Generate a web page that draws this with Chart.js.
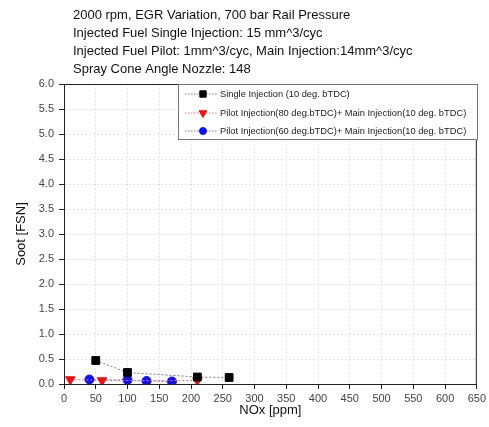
<!DOCTYPE html>
<html>
<head>
<meta charset="utf-8">
<script src="https://cdn.jsdelivr.net/npm/chart.js@4/dist/chart.umd.min.js"></script>
<style>
  html, body { margin: 0; padding: 0; background: #fff; }
  #wrap { width: 489px; height: 427px; }
</style>
</head>
<body>
<div id="wrap"><canvas id="graficoSoot"></canvas></div>
<script>
// dados
const titleLines = [
  '2000 rpm, EGR Variation, 700 bar Rail Pressure',
  'Injected Fuel Single Injection: 15 mm^3/cyc',
  'Injected Fuel Pilot: 1mm^3/cyc, Main Injection:14mm^3/cyc',
  'Spray Cone Angle Nozzle: 148'
];
const seriesNames = [
  'Single Injection (10 deg. bTDC)',
  'Pilot Injection(80 deg.bTDC)+ Main Injection(10 deg. bTDC)',
  'Pilot Injection(60 deg.bTDC)+ Main Injection(10 deg. bTDC)'
];
const singleNox = [50, 100, 210, 260];
const singleSoot = [0.47, 0.23, 0.14, 0.13];
const pilot80Nox = [10, 60, 210];
const pilot80Soot = [0.09, 0.07, 0.07];
const pilot60Nox = [40, 100, 130, 170];
const pilot60Soot = [0.09, 0.08, 0.06, 0.05];

const toPts = (xs, ys) => xs.map((x, i) => ({ x: x, y: ys[i] }));

Chart.defaults.font.family = 'Arial, "Liberation Sans", sans-serif';
Chart.defaults.color = '#333';

// título e legenda desenhados à mão
const extras = {
  id: 'extras',
  afterDraw(chart) {
    const ctx = chart.ctx;
    const a = chart.chartArea;
    ctx.save();
    // moldura do gráfico
    ctx.strokeStyle = '#222';
    ctx.lineWidth = 1;
    ctx.strokeRect(a.left + 0.5, a.top + 0.5, a.right - a.left - 1, a.bottom - a.top);

    // título
    ctx.fillStyle = '#111';
    ctx.font = '13px Arial, "Liberation Sans", sans-serif';
    ctx.textBaseline = 'middle';
    ctx.textAlign = 'left';
    titleLines.forEach((t, i) => ctx.fillText(t, 73, 15 + i * 18));

    // legenda
    ctx.fillStyle = '#fff';
    ctx.fillRect(178.5, 84.5, 299, 55);
    ctx.strokeStyle = '#777';
    ctx.strokeRect(178.5, 84.5, 299, 55);
    const ys = [94, 113, 131];
    chart.data.datasets.forEach((ds, i) => {
      ctx.setLineDash([1.5, 1.5]);
      ctx.strokeStyle = ds.borderColor;
      ctx.beginPath();
      ctx.moveTo(185, ys[i]);
      ctx.lineTo(218, ys[i]);
      ctx.stroke();
      ctx.setLineDash([]);
      ctx.fillStyle = ds.pointBackgroundColor;
      ctx.strokeStyle = ds.pointBorderColor;
      ctx.lineWidth = 1;
      Chart.helpers.drawPoint(ctx, {
        pointStyle: ds.pointStyle,
        rotation: ds.pointRotation || 0,
        radius: ds.pointRadius - 1,
        borderWidth: 1
      }, 203, ys[i]);
      ctx.fillStyle = '#222';
      ctx.font = '9.3px Arial, "Liberation Sans", sans-serif';
      ctx.fillText(seriesNames[i], 220, ys[i]);
    });
    ctx.restore();
  }
};

new Chart(document.getElementById('graficoSoot'), {
  type: 'scatter',
  data: {
    datasets: [
      {
        label: seriesNames[0],
        data: toPts(singleNox, singleSoot),
        showLine: true,
        borderColor: '#777',
        borderWidth: 1,
        borderDash: [2, 2],
        pointStyle: 'rect',
        pointRadius: 5.5,
        pointBackgroundColor: '#000',
        pointBorderColor: '#000'
      },
      {
        label: seriesNames[1],
        data: toPts(pilot80Nox, pilot80Soot),
        showLine: true,
        borderColor: '#f07070',
        borderWidth: 1,
        borderDash: [2, 2],
        pointStyle: 'triangle',
        pointRotation: 180,
        pointRadius: 5.5,
        pointBackgroundColor: '#ee1111',
        pointBorderColor: '#ee1111'
      },
      {
        label: seriesNames[2],
        data: toPts(pilot60Nox, pilot60Soot),
        showLine: true,
        borderColor: '#7070f0',
        borderWidth: 1,
        borderDash: [2, 2],
        pointStyle: 'circle',
        pointRadius: 4.5,
        pointBackgroundColor: '#1111ee',
        pointBorderColor: '#1111ee'
      }
    ]
  },
  options: {
    responsive: true,
    maintainAspectRatio: false,
    animation: false,
    layout: { padding: { top: 84, right: 11, left: 0, bottom: 0 } },
    plugins: {
      legend: { display: false },
      tooltip: { enabled: false }
    },
    scales: {
      x: {
        type: 'linear',
        min: 0,
        max: 650,
        afterFit: s => { s.height = 43; },
        ticks: { stepSize: 50, padding: 3, font: { size: 11 }, color: '#444' },
        grid: { color: '#e4e4e4', tickColor: '#222', tickLength: 5 },
        border: { color: '#222', dash: [2, 2] },
        title: { display: true, text: 'NOx [ppm]', color: '#111', font: { size: 13 }, padding: { bottom: 9 } }
      },
      y: {
        min: 0,
        max: 6,
        afterFit: s => { s.width = 64; },
        ticks: { stepSize: 0.5, padding: 5, font: { size: 11 }, color: '#444', callback: v => v.toFixed(1) },
        grid: { color: '#e4e4e4', tickColor: '#222', tickLength: 5 },
        border: { color: '#222', dash: [2, 2] },
        title: { display: true, text: 'Soot [FSN]', color: '#111', font: { size: 13 }, padding: { top: 14 } }
      }
    }
  },
  plugins: [extras]
});
</script>
</body>
</html>
